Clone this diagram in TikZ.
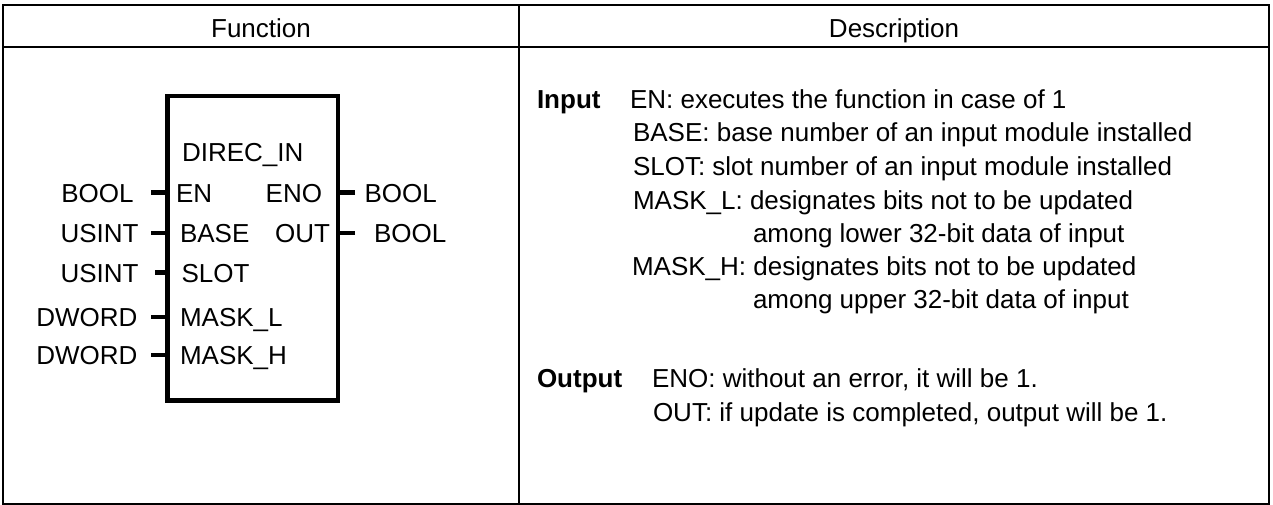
\documentclass[tikz,border=0pt]{standalone}
\usepackage{fontspec}
\setmainfont{Liberation Sans}
\begin{document}
\begin{tikzpicture}[x=1pt,y=-1pt,
  every node/.style={inner sep=0pt, outer sep=0pt, font=\fontsize{26}{31}\selectfont},
  tbl/.style={line width=2pt},
  fbox/.style={draw, line width=4.5pt, minimum width=170.5pt, minimum height=304.5pt},
  stub/.style={line width=4.5pt},
  lbl/.style={anchor=base west},
  rlbl/.style={anchor=base east},
  hd/.style={font=\fontsize{26}{31}\selectfont\bfseries, anchor=base west}
]
\useasboundingbox (0,0) rectangle (1273,505);
% table
\coordinate (tl) at (2.5,5);
\coordinate (br) at (1268.5,503.5);
\coordinate (hl) at (2.5,47);
\coordinate (hr) at (1268.5,47);
\coordinate (dt) at (519,5);
\coordinate (db) at (519,503.5);
\draw[tbl] (tl) rectangle (br);
\draw[tbl] (hl) -- (hr);
\draw[tbl] (dt) -- (db);
\node[anchor=base] (hfun) at (261,37.5) {Function};
\node[anchor=base] (hdesc) at (894,37.5) {Description};
% function block
\node[fbox] (fb) at (252.75,248.25) {};
\node[lbl] (name) at (182,162) {DIREC\_IN};
\node[lbl] (pen) at (176,202) {EN};
\node[lbl] (pbase) at (180,242.3) {BASE};
\node[lbl] (pslot) at (181.5,282) {SLOT};
\node[lbl] (pml) at (180,326.3) {MASK\_L};
\node[lbl] (pmh) at (180,364.3) {MASK\_H};
\node[rlbl] (peno) at (322,202) {ENO};
\node[rlbl] (pout) at (330,242.3) {OUT};
% stubs
\coordinate (s1) at (151,192.7);
\coordinate (s2) at (151,233);
\coordinate (s3) at (155,272.7);
\coordinate (s4) at (151,317);
\coordinate (s5) at (151,355);
\coordinate (s6) at (355,192.7);
\coordinate (s7) at (355,233);
\draw[stub] (s1) -- (s1 -| fb.west);
\draw[stub] (s2) -- (s2 -| fb.west);
\draw[stub] (s3) -- (s3 -| fb.west);
\draw[stub] (s4) -- (s4 -| fb.west);
\draw[stub] (s5) -- (s5 -| fb.west);
\draw[stub] (s6) -- (s6 -| fb.east);
\draw[stub] (s7) -- (s7 -| fb.east);
% types
\node[rlbl] (t1) at (133.5,202) {BOOL};
\node[rlbl] (t2) at (138.5,242.3) {USINT};
\node[rlbl] (t3) at (138.5,282) {USINT};
\node[rlbl] (t4) at (137.5,326.3) {DWORD};
\node[rlbl] (t5) at (137.5,364.3) {DWORD};
\node[lbl] (t6) at (364.5,202) {BOOL};
\node[lbl] (t7) at (374,242.3) {BOOL};
% description
\node[hd] (din) at (537,108.3) {Input};
\node[lbl] (d1) at (630,108.3) {EN: executes the function in case of 1};
\node[lbl] (d2) at (633,141.3) {BASE: base number of an input module installed};
\node[lbl] (d3) at (633,175.3) {SLOT: slot number of an input module installed};
\node[lbl] (d4) at (633,209.3) {MASK\_L: designates bits not to be updated};
\node[lbl] (d5) at (753,242.3) {among lower 32-bit data of input};
\node[lbl] (d6) at (632,275.3) {MASK\_H: designates bits not to be updated};
\node[lbl] (d7) at (753,308.3) {among upper 32-bit data of input};
\node[hd] (dout) at (537,387.3) {Output};
\node[lbl] (d8) at (652,387.3) {ENO: without an error, it will be 1.};
\node[lbl] (d9) at (653,421.3) {OUT: if update is completed, output will be 1.};
\end{tikzpicture}
\end{document}
